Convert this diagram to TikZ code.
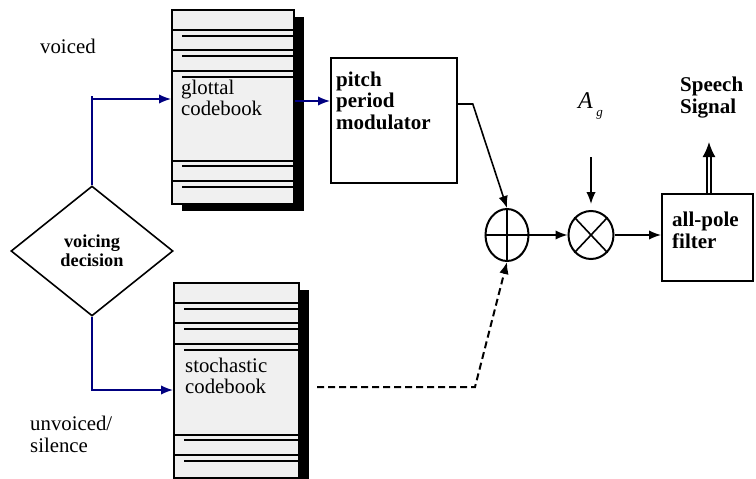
\documentclass[tikz,border=0pt]{standalone}
\usepackage{fontspec}
\setmainfont{Liberation Serif}
\usetikzlibrary{arrows.meta}
\usetikzlibrary{shapes.geometric}
\usetikzlibrary{shadows}

\definecolor{wireblue}{RGB}{0,0,128}

\begin{document}
\begin{tikzpicture}[x=1pt, y=-1pt, >={Latex[length=12pt,width=9.5pt]},
  txt/.style={font=\fontsize{20.8}{21.5}\selectfont, align=left, inner sep=0pt, anchor=base west},
  btxt/.style={txt, font=\fontsize{21}{21.5}\selectfont\bfseries},
  codebook/.style={draw, line width=2pt, fill=black!6, anchor=north west, inner sep=0pt,
    drop shadow={shadow xshift=10pt, shadow yshift=-7pt, fill=black, opacity=1}},
  block/.style={draw, line width=1.8pt, anchor=north west, inner sep=0pt},
  junction/.style={ellipse, draw, line width=2pt, inner sep=0pt},
  wire/.style={line width=1.6pt, draw=wireblue},
  sig/.style={line width=1.6pt}]
\useasboundingbox (0,0) rectangle (756,479);

%codebooks
\node[codebook, minimum width=122pt, minimum height=194pt] (glottal) at (171,9) {};
\node[codebook, minimum width=125pt, minimum height=195pt] (stochastic) at (173,282) {};
\foreach \cb in {glottal,stochastic} {
  \foreach \d in {21,41,62}
    \draw[line width=2pt] ([yshift=-\d]\cb.north west) -- ([yshift=-\d]\cb.north east);
  \foreach \d in {44,24}
    \draw[line width=2pt] ([yshift=\d]\cb.south west) -- ([yshift=\d]\cb.south east);
  \foreach \d in {27,47,68}
    \draw[line width=1.9pt] ([xshift=11, yshift=-\d]\cb.north west) -- ([yshift=-\d]\cb.north east);
  \foreach \d in {39,18}
    \draw[line width=1.9pt] ([xshift=11, yshift=\d]\cb.south west) -- ([yshift=\d]\cb.south east);
}
\node[txt] (glottaltxt) at (181,115.5) {glottal\\codebook};
\node[txt] (stochastictxt) at (185,393.5) {stochastic\\codebook};

%decision
\node[diamond, draw, line width=1.6pt, minimum width=162pt, minimum height=130pt, inner sep=0pt,
  align=center, font=\fontsize{18.3}{19}\selectfont\bfseries] (decision) at (92,251) {voicing\\decision};
\node[txt] (voicedlbl) at (40,53) {voiced};
\node[txt] (unvoicedlbl) at (30,452) {unvoiced/\\silence};

%blocks
\node[block, minimum width=126pt, minimum height=125pt] (pitch) at (330,57) {};
\node[btxt] (pitchtxt) at (336,129) {pitch\\period\\modulator};
\node[block, minimum width=91pt, minimum height=87pt] (filter) at (661,193) {};
\node[btxt] (filtertxt) at (672,248) {all-pole\\filter};
\node[btxt] (speechlbl) at (680,113) {Speech\\Signal};

\node[junction, minimum width=43pt, minimum height=52pt] (plus) at (507,235) {};
\draw[sig] (plus.north) -- (plus.south);
\draw[sig] (plus.west) -- (plus.east);
\node[junction, minimum width=45pt, minimum height=48pt] (times) at (591,235) {};
\draw[sig] (times.north west) -- (times.south east);
\draw[sig] (times.north east) -- (times.south west);
\node[inner sep=0pt, anchor=base west] (gainlbl) at (578,108)
  {\fontsize{24}{24}\selectfont\itshape A\hspace{3.5pt}\raisebox{-8pt}{\fontsize{13}{13}\selectfont g}};

%connections
\coordinate (voicedtap) at (92,96);
\coordinate (voicedrow) at (0,99);
\coordinate (unvoicedrow) at (0,390);
\coordinate (excrow) at (0,101);
\coordinate (pulserow) at (0,104);
\coordinate (noise) at (317,387);
\coordinate (noisebend) at (475,387);
\coordinate (gainfrom) at (591,157);
\coordinate (speechtip) at (709,142);

\draw[wire] (decision.north) -- (voicedtap);
\draw[wire,->] (decision.north |- voicedrow) -- (glottal.west |- voicedrow);
\draw[wire,->] (decision.south) |- (stochastic.west |- unvoicedrow);
\draw[wire,->] (glottal.east |- excrow) -- (pitch.west |- excrow);
\draw[sig,->] (pitch.east |- pulserow) -- ++(15,0) -- (plus.north);
\draw[sig, line width=2pt, dash pattern=on 7pt off 4pt, ->] (noise) -- (noisebend) -- (plus.south);
\draw[sig,->] (plus.east) -- (times.west);
\draw[sig,->] (times.east) -- (filter.west |- times.east);
\draw[sig,->, shorten >=6pt] (gainfrom) -- (times.north);
\draw[line width=1.7pt, double, double distance=2.2pt, -{Latex[length=15pt,width=13pt]}]
  (filter.north -| speechtip) -- (speechtip);
\end{tikzpicture}
\end{document}
